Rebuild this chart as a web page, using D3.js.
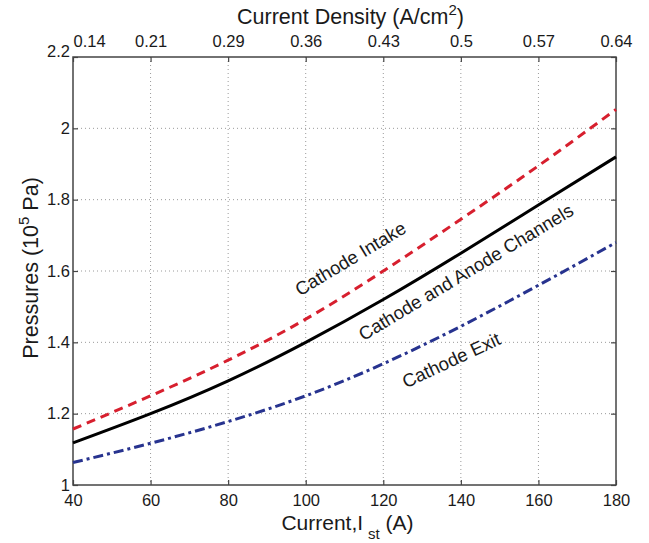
<!DOCTYPE html>
<html>
<head>
<meta charset="utf-8">
<script src="https://cdn.jsdelivr.net/npm/d3@7"></script>
<style>
  body { margin: 0; background: #fff; }
  svg text { font-family: "Liberation Sans", Arial, sans-serif; fill: #1a1a1a; }
</style>
</head>
<body>
<div id="chart"></div>
<script>
// data
var currents = [40, 60, 80, 100, 120, 140, 160, 180];
var intake   = [1.157, 1.25, 1.35, 1.465, 1.60, 1.745, 1.895, 2.053];
var channels = [1.118, 1.20, 1.292, 1.40, 1.52, 1.65, 1.785, 1.92];
var exitP    = [1.063, 1.117, 1.178, 1.25, 1.34, 1.445, 1.56, 1.68];

var xTicks = [40, 60, 80, 100, 120, 140, 160, 180];
var densityLabels = ["0.14", "0.21", "0.29", "0.36", "0.43", "0.5", "0.57", "0.64"];
var yTicks = [1, 1.2, 1.4, 1.6, 1.8, 2, 2.2];

var curveNames = ["Cathode Intake", "Cathode and Anode Channels", "Cathode Exit"];
var curveValues = [intake, channels, exitP];
// label anchor (current, pressure) and angle
var labelPos = [[111.5, 1.635, -31], [141.3, 1.597, -31], [137.5, 1.35, -25]];

var W = 649, H = 543;
var margin = { top: 57, right: 33, bottom: 58, left: 73 },
    width = W - margin.left - margin.right,
    height = H - margin.top - margin.bottom;

var svg = d3.select("#chart")
    .append("svg")
    .attr("width", W)
    .attr("height", H);

var g = svg.append("g")
    .attr("transform", "translate(" + margin.left + "," + margin.top + ")");

var x = d3.scaleLinear().domain([40, 180]).range([0, width]);
var y = d3.scaleLinear().domain([1, 2.2]).range([height, 0]);

// ---------- grid ----------
g.append("g").selectAll("line")
    .data(xTicks.slice(1, -1))
    .enter().append("line")
    .attr("x1", function(d) { return x(d); })
    .attr("x2", function(d) { return x(d); })
    .attr("y1", 0).attr("y2", height)
    .attr("stroke", "#9a9a9a")
    .attr("stroke-width", 1)
    .attr("stroke-dasharray", "1,3");

g.append("g").selectAll("line")
    .data(yTicks.slice(1, -1))
    .enter().append("line")
    .attr("y1", function(d) { return y(d); })
    .attr("y2", function(d) { return y(d); })
    .attr("x1", 0).attr("x2", width)
    .attr("stroke", "#9a9a9a")
    .attr("stroke-width", 1)
    .attr("stroke-dasharray", "1,3");

// ---------- axes ----------
var fmtY = function(d) { return String(+d.toFixed(1)); };

var xb = g.append("g")
    .attr("transform", "translate(0," + height + ")")
    .call(d3.axisBottom(x).tickValues(xTicks).tickSize(-5).tickPadding(9));
var xt = g.append("g")
    .call(d3.axisTop(x).tickValues(xTicks).tickSize(-5).tickPadding(10)
        .tickFormat(function(d, i) { return densityLabels[i]; }));
var yl = g.append("g")
    .call(d3.axisLeft(y).tickValues(yTicks).tickSize(-5).tickPadding(8).tickFormat(fmtY));
var yr = g.append("g")
    .attr("transform", "translate(" + width + ",0)")
    .call(d3.axisRight(y).tickValues(yTicks).tickSize(-5).tickFormat(""));

[xb, xt, yl, yr].forEach(function(a) {
    a.select(".domain").remove();
    a.selectAll(".tick line").attr("stroke", "#444").attr("stroke-width", 1.2);
    a.selectAll(".tick text")
        .style("font-size", "16.5px")
        .style("font-family", "'Liberation Sans', Arial, sans-serif")
        .attr("fill", "#1a1a1a");
});
xb.selectAll(".tick text").attr("dy", "0.75em");
// first density label sits right of the 2.2 label
xt.selectAll(".tick text").filter(function(d) { return d === 40; })
    .attr("text-anchor", "start").attr("x", 0);
yl.selectAll(".tick text").attr("x", -3);
yl.selectAll(".tick text").filter(function(d) { return d === 2.2; }).attr("dy", "-0.05em");

// box
g.append("rect")
    .attr("width", width).attr("height", height)
    .attr("fill", "none")
    .attr("stroke", "#444")
    .attr("stroke-width", 1.5);

// ---------- curves ----------
var colors = ["#d71f2e", "#000000", "#27338f"];
var dashes = ["9,6", null, "10,4,3,4"];

var line = d3.line()
    .x(function(d) { return x(d[0]); })
    .y(function(d) { return y(d[1]); })
    .curve(d3.curveNatural);

curveValues.forEach(function(vals, k) {
    g.append("path")
        .datum(currents.map(function(c, i) { return [c, vals[i]]; }))
        .attr("d", line)
        .attr("fill", "none")
        .attr("stroke", colors[k])
        .attr("stroke-width", 3)
        .attr("stroke-dasharray", dashes[k]);
});

// curve labels
g.selectAll(".clabel")
    .data(curveNames)
    .enter().append("text")
    .attr("class", "clabel")
    .attr("text-anchor", "middle")
    .attr("dominant-baseline", "central")
    .attr("transform", function(d, i) {
        var p = labelPos[i];
        return "translate(" + x(p[0]) + "," + y(p[1]) + ") rotate(" + p[2] + ")";
    })
    .style("font-size", "18.5px")
    .text(function(d) { return d; });

// ---------- axis titles ----------
var topTitle = svg.append("text")
    .attr("x", margin.left + width / 2 + 6)
    .attr("y", 24)
    .attr("text-anchor", "middle")
    .style("font-size", "21.5px");
topTitle.append("tspan").text("Current Density (A/cm");
topTitle.append("tspan").attr("dy", -9).style("font-size", "15px").text("2");
topTitle.append("tspan").attr("dy", 9).text(")");

var bottomTitle = svg.append("text")
    .attr("x", margin.left + width / 2 + 3)
    .attr("y", 530)
    .attr("text-anchor", "middle")
    .style("font-size", "21px");
bottomTitle.append("tspan").text("Current,I");
bottomTitle.append("tspan").attr("dx", 5).attr("dy", 9).style("font-size", "15px").text("st");
bottomTitle.append("tspan").attr("dy", -9).text(" (A)");

var leftTitle = svg.append("text")
    .attr("transform", "translate(38,268) rotate(-90)")
    .attr("text-anchor", "middle")
    .style("font-size", "21.5px");
leftTitle.append("tspan").text("Pressures (10");
leftTitle.append("tspan").attr("dy", -9).style("font-size", "15px").text("5");
leftTitle.append("tspan").attr("dy", 9).text(" Pa)");
</script>
</body>
</html>
